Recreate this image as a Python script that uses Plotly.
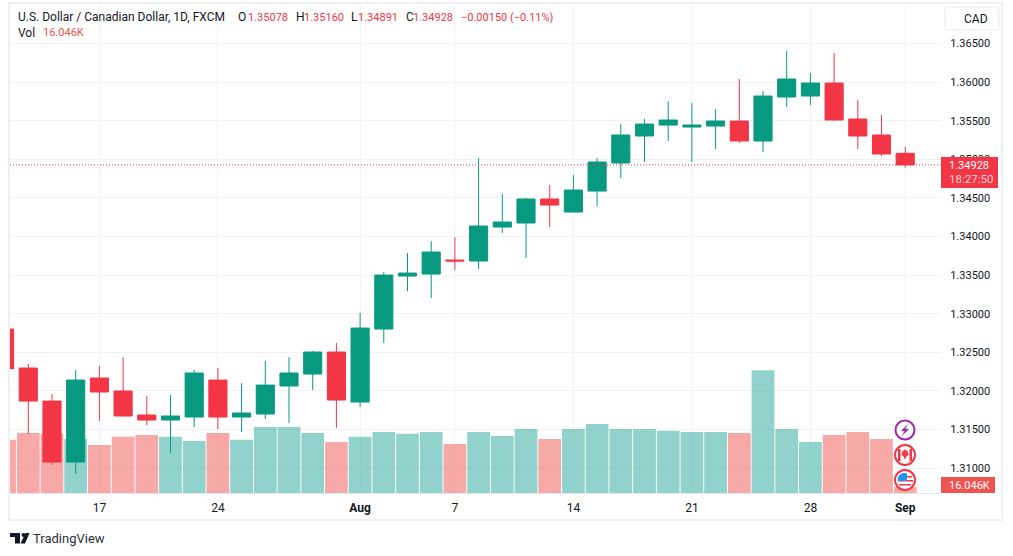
import plotly.graph_objects as go

days = ["2023-07-11", "2023-07-12", "2023-07-13", "2023-07-14",
        "2023-07-17", "2023-07-18", "2023-07-19", "2023-07-20", "2023-07-21",
        "2023-07-24", "2023-07-25", "2023-07-26", "2023-07-27", "2023-07-28",
        "2023-07-31", "2023-08-01", "2023-08-02", "2023-08-03", "2023-08-04",
        "2023-08-07", "2023-08-08", "2023-08-09", "2023-08-10", "2023-08-11",
        "2023-08-14", "2023-08-15", "2023-08-16", "2023-08-17", "2023-08-18",
        "2023-08-21", "2023-08-22", "2023-08-23", "2023-08-24", "2023-08-25",
        "2023-08-28", "2023-08-29", "2023-08-30", "2023-08-31", "2023-09-01"]
opens = [1.32802, 1.32297, 1.31869, 1.31079,
         1.32167, 1.31999, 1.31688, 1.31623, 1.31662,
         1.32141, 1.31662, 1.31701, 1.32064, 1.32219,
         1.32504, 1.31856, 1.32802, 1.33488, 1.33514,
         1.33696, 1.33683, 1.34123, 1.34175, 1.34486,
         1.34317, 1.34589, 1.34952, 1.35302, 1.35444,
         1.35418, 1.35431, 1.35496, 1.35237, 1.35807,
         1.35820, 1.35988, 1.35522, 1.35315, 1.35078]
highs = [1.32850, 1.32349, 1.31960, 1.32271,
         1.32323, 1.32439, 1.31934, 1.31947, 1.32271,
         1.32297, 1.32102, 1.32387, 1.32439, 1.32517,
         1.32621, 1.33009, 1.33540, 1.33786, 1.33942,
         1.33994, 1.35017, 1.34551, 1.34499, 1.34667,
         1.34797, 1.35017, 1.35457, 1.35522, 1.35755,
         1.35729, 1.35652, 1.36040, 1.35885, 1.36403,
         1.36118, 1.36377, 1.35768, 1.35574, 1.35160]
lows = [1.32200, 1.31442, 1.31040, 1.30924,
        1.31610, 1.31675, 1.31558, 1.31196, 1.31532,
        1.31507, 1.31468, 1.31636, 1.31584, 1.32012,
        1.31519, 1.31792, 1.32621, 1.33294, 1.33203,
        1.33566, 1.33579, 1.34045, 1.33722, 1.34123,
        1.34317, 1.34395, 1.34758, 1.34965, 1.35237,
        1.34965, 1.35133, 1.35211, 1.35095, 1.35677,
        1.35703, 1.35496, 1.35133, 1.35043, 1.34891]
closes = [1.32288, 1.31869, 1.31079, 1.32141,
          1.31986, 1.31675, 1.31623, 1.31675, 1.32232,
          1.31662, 1.31714, 1.32076, 1.32232, 1.32504,
          1.31882, 1.32815, 1.33501, 1.33527, 1.33799,
          1.33683, 1.34136, 1.34188, 1.34486, 1.34408,
          1.34602, 1.34965, 1.35315, 1.35457, 1.35509,
          1.35444, 1.35496, 1.35237, 1.35820, 1.36040,
          1.35988, 1.35509, 1.35302, 1.35069, 1.34928]
volumes = [142, 160, 158, 144,
           128, 150, 155, 150, 139,
           160, 142, 176, 176, 160,
           136, 150, 163, 158, 163,
           131, 163, 152, 171, 144,
           171, 184, 171, 171, 166,
           163, 163, 160, 328, 171,
           136, 155, 163, 144, 16.046]
price_ticks = [1.31, 1.315, 1.32, 1.325, 1.33, 1.335, 1.34, 1.345, 1.35, 1.355, 1.36, 1.365]
date_ticks = ["2023-07-17", "2023-07-24", "2023-08-01", "2023-08-07", "2023-08-14", "2023-08-21", "2023-08-28", "2023-09-01"]
date_labels = ["17", "24", "<b>Aug</b>", "7", "14", "21", "28", "<b>Sep</b>"]

UP = "#089981"
DOWN = "#F23645"
TEXT = "#131722"
GRID = "#F1F2F5"
FRAME = "#EEF0F6"
FONT = "Roboto"

# pane in page pixels
W, H = 1013, 556
L, R, T, B = 10, 941, 5, 493


def px(x):
    return (x - L) / (R - L)


def py(y):
    return (B - y) / (B - T)


def rect(x0, y0, x1, y1, fill, line=None, width=1):
    return dict(type="rect", xref="paper", yref="paper", layer="above",
                x0=px(x0), y0=py(y0), x1=px(x1), y1=py(y1), fillcolor=fill,
                line=dict(color=line or "rgba(0,0,0,0)", width=width))


def circle(cx, cy, r, fill, line=None, width=2):
    return dict(type="circle", xref="paper", yref="paper", layer="above",
                x0=px(cx - r), y0=py(cy + r), x1=px(cx + r), y1=py(cy - r), fillcolor=fill,
                line=dict(color=line or "rgba(0,0,0,0)", width=width))


def poly(points, fill):
    d = "M" + " L".join(f"{px(x):.5f},{py(y):.5f}" for x, y in points) + " Z"
    return dict(type="path", xref="paper", yref="paper", layer="above", path=d,
                fillcolor=fill, line=dict(width=0))


def label(x, y, text, color=TEXT, size=12, anchor="left"):
    # annotations pad their box by about a pixel
    if anchor == "left":
        x = x - 1
    return dict(xref="paper", yref="paper", x=px(x), y=py(y), text=text, showarrow=False,
                xanchor=anchor, yanchor="middle", align="left",
                font=dict(family=FONT, size=size, color=color), borderpad=0)


vol_colors = ["rgba(38,166,154,0.5)" if c >= o else "rgba(239,83,80,0.5)" for o, c in zip(opens, closes)]

fig = go.Figure()
fig.add_trace(go.Bar(x=days, y=volumes, marker=dict(color=vol_colors, line=dict(width=0)),
                     yaxis="y", hoverinfo="skip"))
fig.add_trace(go.Candlestick(x=days, open=opens, high=highs, low=lows, close=closes, yaxis="y2",
                             increasing=dict(line=dict(color=UP, width=1), fillcolor=UP),
                             decreasing=dict(line=dict(color=DOWN, width=1), fillcolor=DOWN),
                             whiskerwidth=0))

last_open, last_high, last_low, last_close = opens[-1], highs[-1], lows[-1], closes[-1]
change = last_close - last_open

shapes = [
    dict(type="line", xref="paper", yref="y2", x0=0, x1=1, y0=last_close, y1=last_close,
         line=dict(color=DOWN, width=1, dash="1px,2px"), layer="above"),
    # outer frame
    rect(L - 1, 3, 1002, 520, "rgba(0,0,0,0)", FRAME, 2),
    rect(R, 157, 998, 188, DOWN),
    rect(R, 477, 995, 493, "#EF5350"),
    dict(type="path", xref="paper", yref="paper", layer="above", fillcolor="#FFFFFF",
         line=dict(color="#E8EAF0", width=1),
         path=f"M{px(948)},{py(7)} L{px(996)},{py(7)} Q{px(999)},{py(7)} {px(999)},{py(10)} "
              f"L{px(999)},{py(27)} Q{px(999)},{py(30)} {px(996)},{py(30)} L{px(948)},{py(30)} "
              f"Q{px(945)},{py(30)} {px(945)},{py(27)} L{px(945)},{py(10)} Q{px(945)},{py(7)} {px(948)},{py(7)} Z"),
    # events
    circle(905, 430, 9.5, "#FFFFFF", "#9C27B0"),
    poly([(908, 424), (901, 431), (904.5, 431), (902, 436), (909, 429), (905.5, 429)], "#9C27B0"),
    circle(905, 455, 10, "#FFFFFF", "#F23645"),
    rect(898, 449, 900.5, 461, "#F23645"),
    rect(909.5, 449, 912, 461, "#F23645"),
    poly([(905, 449), (906.5, 451), (908, 450.5), (907.5, 453), (909, 454), (906, 457), (905.5, 459),
          (904.5, 459), (904, 457), (901, 454), (902.5, 453), (902, 450.5), (903.5, 451)], "#F23645"),
    circle(905, 480, 10, "#FFFFFF", "#F23645"),
    rect(899, 476, 912, 477.5, "#F23645"),
    rect(898, 480, 913, 481.5, "#F23645"),
    rect(899, 484, 911, 485.5, "#F23645"),
    poly([(900, 474.5), (903, 473), (906, 473), (907, 474), (907, 481), (897.5, 481), (898, 477)], "#2196F3"),
    # logo
    poly([(10, 533), (20, 533), (20, 543.5), (15, 543.5), (15, 537), (10, 537)], TEXT),
    circle(23.5, 535, 2, TEXT, None, 0),
    poly([(25.5, 533), (29.5, 533), (25, 543.5), (20.5, 543.5)], TEXT),
]

# the legend pieces are placed one by one, the numbers run narrower than the name
annotations = [
    label(18, 17, "U.S. Dollar / Canadian Dollar, 1D, FXCM"),
    label(238, 17, "O"),
    label(248, 17, f"{last_open:.5f}", DOWN, 11),
    label(295.5, 17, "H"),
    label(304, 17, f"{last_high:.5f}", DOWN, 11),
    label(351, 17, "L"),
    label(358, 17, f"{last_low:.5f}", DOWN, 11),
    label(405.5, 17, "C"),
    label(413, 17, f"{last_close:.5f}", DOWN, 11),
    label(461, 17, f"\u2212{abs(change):.5f} (\u22120.11%)", DOWN, 11),
    label(18, 33, "Vol"),
    label(42.5, 33, f"{volumes[-1]:.3f}K", "#EF5350", 11),
    label(964, 19, "CAD"),
    label(949, 165, f"{last_close:.5f}", "#FFFFFF", 11),
    label(949, 179, "18:27:50", "#FFD0D4", 11.5),
    label(949, 485, f"{volumes[-1]:.3f}K", "#FFFFFF", 11),
    label(33, 538, "TradingView", "#2A2E39", 13),
]

fig.update_layout(
    width=W, height=H,
    margin=dict(l=L, r=W - R, t=T, b=H - B, pad=0),
    paper_bgcolor="white", plot_bgcolor="white",
    showlegend=False, bargap=0.04, boxgap=0.235, boxgroupgap=0,
    font=dict(family=FONT, size=12, color=TEXT),
    xaxis=dict(type="category", categoryorder="array", categoryarray=days, range=[0.228, 39.51],
               tickmode="array", tickvals=date_ticks, ticktext=date_labels, tickangle=0,
               showgrid=True, gridcolor=GRID, gridwidth=1, zeroline=False,
               showline=True, linecolor="#E4E6EE", linewidth=1,
               ticks="outside", ticklen=4, tickcolor="rgba(0,0,0,0)", rangeslider=dict(visible=False)),
    yaxis=dict(range=[0, 1303], visible=False, showgrid=False, fixedrange=True),
    yaxis2=dict(range=[1.30678, 1.36999], overlaying="y", side="right", tickmode="array",
                tickvals=price_ticks, ticktext=[f"{t:.5f}" for t in price_ticks],
                tickfont=dict(size=11),
                showgrid=True, gridcolor=GRID, gridwidth=1, zeroline=False,
                showline=False, ticks="outside", ticklen=6, tickcolor="rgba(0,0,0,0)"),
    shapes=shapes, annotations=annotations,
)

fig.write_html("out.html", config=dict(displayModeBar=False),
               post_script="document.body.style.margin='0';")
